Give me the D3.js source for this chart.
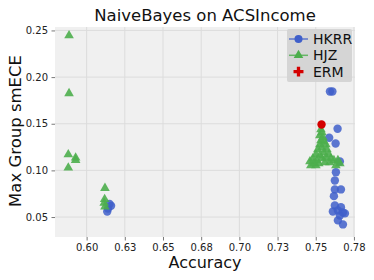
<!DOCTYPE html>
<html><head><meta charset="utf-8">
<script src="https://cdn.jsdelivr.net/npm/d3@7"></script>
<style>body{margin:0;background:#fff;}svg{display:block;font-family:"DejaVu Sans",sans-serif;}</style>
</head><body><div id="chart"></div>
<script>
const title = "NaiveBayes on ACSIncome";
const xLabel = "Accuracy";
const yLabel = "Max Group smECE";
const xTicks = [0.600, 0.625, 0.650, 0.675, 0.700, 0.725, 0.750, 0.775];
const xTickLabels = ["0.60","0.63","0.65","0.68","0.70","0.73","0.75","0.78"];
const yTicks = [0.05, 0.10, 0.15, 0.20, 0.25];
const yTickLabels = ["0.05","0.10","0.15","0.20","0.25"];
const seriesNames = ["HKRR","HJZ","ERM"];

const hkrrAcc = [0.6150,0.6160,0.6140,0.6135,
  0.7593,0.7609,0.7643,0.7588,0.7630,0.7658,0.7632,0.7625,0.7625,0.7665,0.7619,0.7665,0.7625,0.7612,0.7645,0.7678,0.7658,0.7691,0.7645,0.7678];
const hkrrEce = [0.0640,0.0620,0.0590,0.0560,
  0.1846,0.1846,0.1446,0.1350,0.1289,0.1096,0.0981,0.0892,0.0796,0.0796,0.0724,0.0606,0.0624,0.0560,0.0571,0.0549,0.0517,0.0539,0.0464,0.0421];

const hjzAcc = [0.5885,0.5885,0.5880,0.5928,0.5928,0.5880,
  0.6120,0.6118,0.6115,0.6120,
  0.7534,0.7540,0.7527,0.7547,0.7534,0.7553,0.7527,0.7566,0.7540,0.7514,0.7573,0.7553,0.7501,0.7527,0.7586,0.7566,0.7481,0.7507,0.7540,0.7599,0.7462,0.7488,0.7520,0.7560,0.7592,0.7619,0.7645,0.7468,0.7501,0.7632,0.7658];
const hjzEce = [0.2446,0.1825,0.1171,0.1136,0.1110,0.1028,
  0.0810,0.0690,0.0650,0.0610,
  0.1439,0.1407,0.1375,0.1353,0.1321,0.1310,0.1278,0.1278,0.1246,0.1225,0.1225,0.1192,0.1171,0.1160,0.1171,0.1139,0.1128,0.1107,0.1128,0.1128,0.1096,0.1074,0.1074,0.1085,0.1085,0.1107,0.1107,0.1053,0.1053,0.1053,0.1074];

const ermAcc = [0.7538];
const ermEce = [0.1492];

const W = 374, H = 280;
const m = {l:55, r:19, t:27, b:43};
const svg = d3.select("#chart").append("svg").attr("width", W).attr("height", H);
const x = d3.scaleLinear().domain([0.5793, 0.7757]).range([m.l, W - m.r]);
const y = d3.scaleLinear().domain([0.0286, 0.2537]).range([H - m.b, m.t]);

svg.append("rect").attr("x", m.l).attr("y", m.t).attr("width", W - m.l - m.r).attr("height", H - m.t - m.b).attr("fill", "#f0f0f0");

const g = svg.append("g");
g.selectAll(".gx").data(xTicks).join("line")
  .attr("x1", d => x(d)).attr("x2", d => x(d)).attr("y1", m.t).attr("y2", H - m.b)
  .attr("stroke", "#dcdcdc").attr("stroke-width", 1);
g.selectAll(".gy").data(yTicks).join("line")
  .attr("y1", d => y(d)).attr("y2", d => y(d)).attr("x1", m.l).attr("x2", W - m.r)
  .attr("stroke", "#dcdcdc").attr("stroke-width", 1);

const xAxis = d3.axisBottom(x).tickValues(xTicks).tickFormat((d, i) => xTickLabels[i]).tickSize(3.5).tickPadding(3);
const yAxis = d3.axisLeft(y).tickValues(yTicks).tickFormat((d, i) => yTickLabels[i]).tickSize(3.5).tickPadding(3.5);
const gx = svg.append("g").attr("transform", `translate(0,${H - m.b})`).call(xAxis);
const gy = svg.append("g").attr("transform", `translate(${m.l},0)`).call(yAxis);
[gx, gy].forEach(a => {
  a.select(".domain").remove();
  a.selectAll(".tick line").attr("stroke", "#555").attr("stroke-width", 0.8);
  a.selectAll(".tick text").attr("font-size", 10).attr("fill", "#222").attr("font-family", "DejaVu Sans");
});

const blue = "#3f5fca", green = "#4cae4c", red = "#d40000";
const tri = d3.symbol().type(d3.symbolTriangle).size(40);

const hkrr = hkrrAcc.map((a, i) => [a, hkrrEce[i]]);
const hjz = hjzAcc.map((a, i) => [a, hjzEce[i]]);
const erm = ermAcc.map((a, i) => [a, ermEce[i]]);

svg.append("g").selectAll("circle").data(hkrr).join("circle")
  .attr("cx", d => x(d[0])).attr("cy", d => y(d[1])).attr("r", 4.2)
  .attr("fill", blue).attr("fill-opacity", 0.85);
svg.append("g").selectAll("path").data(hjz).join("path")
  .attr("d", tri).attr("transform", d => `translate(${x(d[0])},${y(d[1])})`)
  .attr("fill", green).attr("fill-opacity", 0.9);
svg.append("g").selectAll("circle").data(erm).join("circle")
  .attr("cx", d => x(d[0])).attr("cy", d => y(d[1])).attr("r", 4.2)
  .attr("fill", red);

// legend
const lg = svg.append("g").attr("transform", "translate(287,29)");
lg.append("rect").attr("width", 65).attr("height", 53).attr("fill", "#d3d3d3").attr("rx", 2).attr("opacity", 0.95);
const colors = [blue, green, red];
seriesNames.forEach((n, i) => {
  const yy = 10 + i * 16.3;
  if (i < 2) {
    lg.append("line").attr("x1", 2).attr("x2", 21).attr("y1", yy).attr("y2", yy).attr("stroke", colors[i]).attr("stroke-width", 1.5).attr("opacity", 0.8);
  }
  if (i === 0) lg.append("circle").attr("cx", 11.5).attr("cy", yy).attr("r", 4).attr("fill", colors[i]);
  else if (i === 1) lg.append("path").attr("d", tri).attr("transform", `translate(11.5,${yy})`).attr("fill", colors[i]);
  else lg.append("path").attr("d", d3.symbol().type(d3.symbolCross).size(55)).attr("transform", `translate(11.5,${yy})`).attr("fill", colors[i]);
  lg.append("text").attr("x", 26).attr("y", yy + 5).attr("font-size", 14).attr("fill", "#111").text(n);
});

svg.append("text").attr("x", 205).attr("y", 21).attr("text-anchor", "middle").attr("font-size", 16.5).attr("fill", "#111").text(title);
svg.append("text").attr("x", 205).attr("y", 268).attr("text-anchor", "middle").attr("font-size", 16).attr("fill", "#111").text(xLabel);
svg.append("text").attr("transform", `translate(21,131) rotate(-90)`).attr("text-anchor", "middle").attr("font-size", 16.5).attr("fill", "#111").text(yLabel);
</script></body></html>
